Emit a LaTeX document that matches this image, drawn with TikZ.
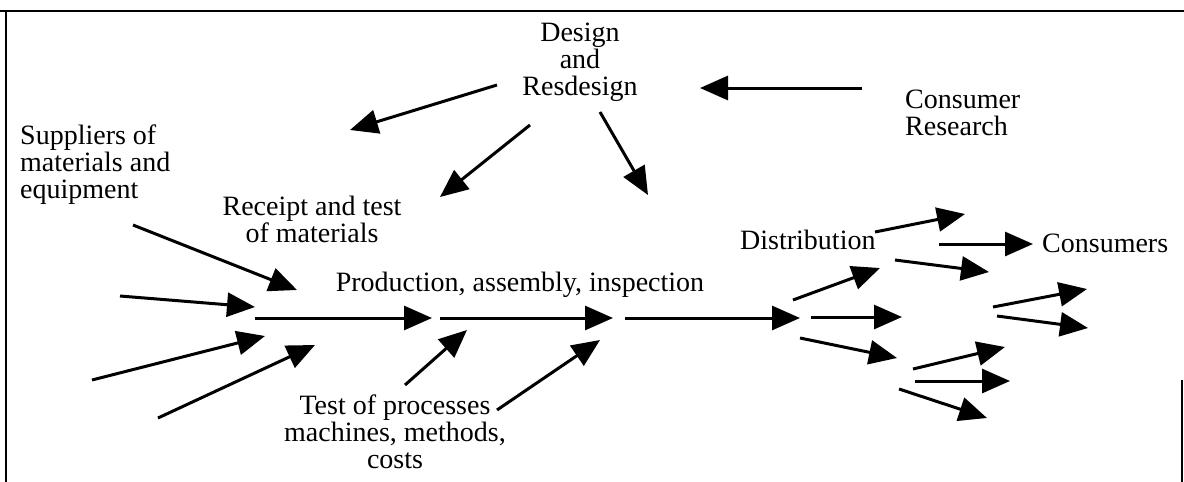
\documentclass[tikz,border=0pt]{standalone}
\usepackage{fontspec}
\setmainfont{Liberation Serif}
\usetikzlibrary{arrows.meta}
\tikzset{
	txt/.style={font=\fontsize{28}{27}\selectfont,inner sep=0pt},
	flow/.style={-{Triangle[length=28pt,width=24pt]},line width=3pt},
	frame/.style={line width=2.2pt}}

\begin{document}
\begin{tikzpicture}[x=1pt,y=-1pt]
			\useasboundingbox (0,0) rectangle (1184,482);
			\draw[frame] (0,11) -- (1184,11);
			\draw[frame] (6,11) -- (6,482);
			\draw[frame] (1182,380) -- (1182,482);
			% texts
			\node[txt,align=center] (design) at (580,62) {Design\\and\\Resdesign};
			\node[txt,align=left,anchor=west] (research) at (905,113) {Consumer\\Research};
			\node[txt,align=left,anchor=west] (suppliers) at (20,165) {Suppliers of\\materials and\\equipment};
			\node[txt,align=center] (receipt) at (312,219) {Receipt and test\\of materials};
			\node[txt] (production) at (520,285) {Production, assembly, inspection};
			\node[txt,align=center] (tests) at (395,432) {Test of processes\\machines, methods,\\costs};
			\node[txt,anchor=west] (distribution) at (740,240) {Distribution};
			\node[txt,anchor=west] (consumers) at (1042,243) {Consumers};
			% arrow ends
			\coordinate (d1) at (497,85);   \coordinate (d1e) at (350,130);
			\coordinate (r1) at (862,88);   \coordinate (r1e) at (700,88);
			\coordinate (d2) at (530,125);  \coordinate (d2e) at (440,197);
			\coordinate (d3) at (600,112);  \coordinate (d3e) at (648,195);
			\coordinate (s1) at (133,225);  \coordinate (s1e) at (297,290);
			\coordinate (s2) at (120,296);  \coordinate (s2e) at (255,307);
			\coordinate (s3) at (92,380);   \coordinate (s3e) at (265,336);
			\coordinate (s4) at (158,418);  \coordinate (s4e) at (315,345);
			\coordinate (m1) at (255,318);  \coordinate (m1e) at (432,318);
			\coordinate (m2) at (440,318);  \coordinate (m2e) at (613,318);
			\coordinate (m3) at (625,318);  \coordinate (m3e) at (800,318);
			\coordinate (t1) at (405,385);  \coordinate (t1e) at (467,330);
			\coordinate (t2) at (497,410);  \coordinate (t2e) at (600,340);
			\coordinate (f1) at (793,300);  \coordinate (f1e) at (880,268);
			\coordinate (f2) at (811,317);  \coordinate (f2e) at (902,317);
			\coordinate (f3) at (800,338);  \coordinate (f3e) at (897,358);
			\coordinate (g1) at (875,232);  \coordinate (g1e) at (965,214);
			\coordinate (g2) at (939,244);  \coordinate (g2e) at (1033,244);
			\coordinate (g3) at (895,260);  \coordinate (g3e) at (989,272);
			\coordinate (h1) at (993,307);  \coordinate (h1e) at (1087,289);
			\coordinate (h2) at (997,316);  \coordinate (h2e) at (1088,328);
			\coordinate (k1) at (913,369);  \coordinate (k1e) at (1005,347);
			\coordinate (k2) at (915,381);  \coordinate (k2e) at (1010,381);
			\coordinate (k3) at (899,389);  \coordinate (k3e) at (987,418);
			% arrows
			\foreach \a in {d1,r1,d2,d3,s1,s2,s3,s4,m1,m2,m3,t1,t2,f1,f2,f3,g1,g2,g3,h1,h2,k1,k2,k3}
				\draw[flow] (\a) -- (\a e);
		\end{tikzpicture}
\end{document}
